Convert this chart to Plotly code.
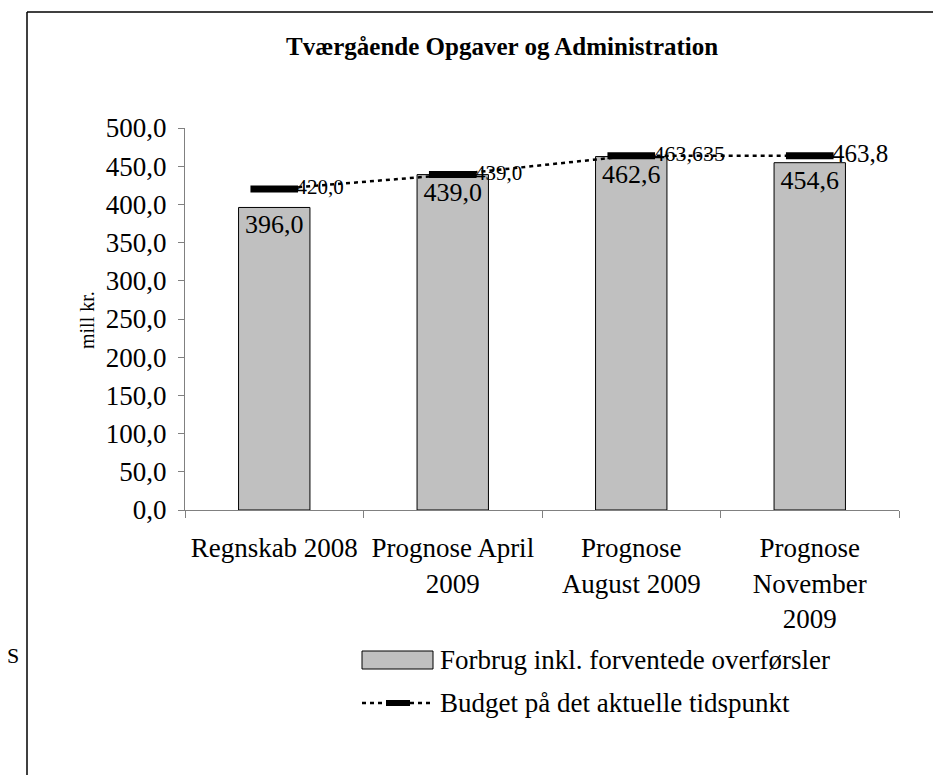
import plotly.graph_objects as go

categories = ["Regnskab 2008", "Prognose April<br>2009", "Prognose<br>August 2009", "Prognose<br>November<br>2009"]
forbrug = [396.0, 439.0, 462.6, 454.6]
budget = [420.0, 439.0, 463.635, 463.8]
budget_labels = [str(v).replace(".", ",") for v in budget]
y_ticks = [0, 50, 100, 150, 200, 250, 300, 350, 400, 450, 500]

# the page puts the figure 8px from the top-left corner of the window
OFF = 8
W, H = 941 - OFF, 775 - OFF
ML, MR, MT, MB = 177, 42, 120, 265
PW = W - ML - MR
PH = H - MT - MB


def px(x):
    """window x pixel -> paper x"""
    return (x - OFF - ML) / PW


def py(y):
    """window y pixel -> paper y"""
    return (H - MB - (y - OFF)) / PH


FONT = "Liberation Serif"

fig = go.Figure()
fig.add_trace(go.Bar(
    x=categories, y=forbrug, name="Forbrug inkl. forventede overførsler",
    marker=dict(color="#C0C0C0", line=dict(color="black", width=1)),
    texttemplate="%{y:.1f}", textposition="inside", insidetextanchor="end",
    textangle=0, constraintext="none",
    textfont=dict(family=FONT, size=26, color="black"),
    showlegend=False,
))
fig.add_trace(go.Scatter(
    x=categories, y=budget, name="Budget på det aktuelle tidspunkt",
    mode="lines+markers+text",
    line=dict(color="black", width=2.5, dash="4px,4px"),
    marker=dict(symbol="line-ew", size=34, line=dict(color="black", width=7)),
    text=budget_labels, textposition="middle right",
    textfont=dict(family=FONT, size=[21, 21, 22, 25], color="black"),
    cliponaxis=False, showlegend=False,
))

fig.update_layout(
    width=W, height=H, autosize=False,
    margin=dict(l=ML, r=MR, t=MT, b=MB),
    paper_bgcolor="white", plot_bgcolor="white",
    separators=",.",
    bargap=0.6,
    font=dict(family=FONT, color="black"),
)
fig.update_yaxes(
    range=[0, 500], tickvals=y_ticks, tickformat=".1f",
    showgrid=False, zeroline=False,
    showline=True, linecolor="#808080", linewidth=1,
    ticks="outside", ticklen=6, tickcolor="#808080",
    tickfont=dict(family=FONT, size=27, color="black"),
    ticklabelstandoff=6,
)
fig.update_xaxes(
    showgrid=False, showline=True, linecolor="#808080", linewidth=1,
    ticks="outside", ticklen=7, tickcolor="#808080", tickson="boundaries",
    tickfont=dict(family=FONT, size=27, color="black"),
    tickangle=0, ticklabelstandoff=14,
)

# frame of the chart area
fig.add_shape(type="line", xref="paper", yref="paper", x0=px(27), x1=px(941), y0=py(12), y1=py(12),
              line=dict(color="black", width=1.5))
fig.add_shape(type="line", xref="paper", yref="paper", x0=px(27), x1=px(27), y0=py(12), y1=py(775),
              line=dict(color="black", width=1.5))

# title
fig.add_annotation(text="<b>Tværgående Opgaver og Administration</b>", xref="paper", yref="paper",
                   x=px(502), y=py(47), showarrow=False, xanchor="center", yanchor="middle",
                   font=dict(family=FONT, size=25, color="black"))
# y-axis title
fig.add_annotation(text="mill kr.", xref="paper", yref="paper", x=px(87), y=py(320),
                   showarrow=False, textangle=-90, xanchor="center", yanchor="middle",
                   font=dict(family=FONT, size=20, color="black"))
# stray glyph at left edge
fig.add_annotation(text="S", xref="paper", yref="paper", x=px(13), y=py(655),
                   showarrow=False, xanchor="center", yanchor="middle",
                   font=dict(family=FONT, size=22, color="black"))

# legend (drawn manually)
fig.add_shape(type="rect", xref="paper", yref="paper", x0=px(362), x1=px(433), y0=py(669), y1=py(651),
              fillcolor="#C0C0C0", line=dict(color="black", width=1))
fig.add_annotation(text="Forbrug inkl. forventede overførsler", xref="paper", yref="paper",
                   x=px(438), y=py(660), showarrow=False, xanchor="left", yanchor="middle",
                   font=dict(family=FONT, size=27, color="black"))
fig.add_shape(type="line", xref="paper", yref="paper", x0=px(362), x1=px(433), y0=py(703), y1=py(703),
              line=dict(color="black", width=2.5, dash="4px,4px"))
fig.add_shape(type="line", xref="paper", yref="paper", x0=px(386), x1=px(410), y0=py(703), y1=py(703),
              line=dict(color="black", width=6))
fig.add_annotation(text="Budget på det aktuelle tidspunkt", xref="paper", yref="paper",
                   x=px(438), y=py(703), showarrow=False, xanchor="left", yanchor="middle",
                   font=dict(family=FONT, size=27, color="black"))

fig.write_html("out.html")
